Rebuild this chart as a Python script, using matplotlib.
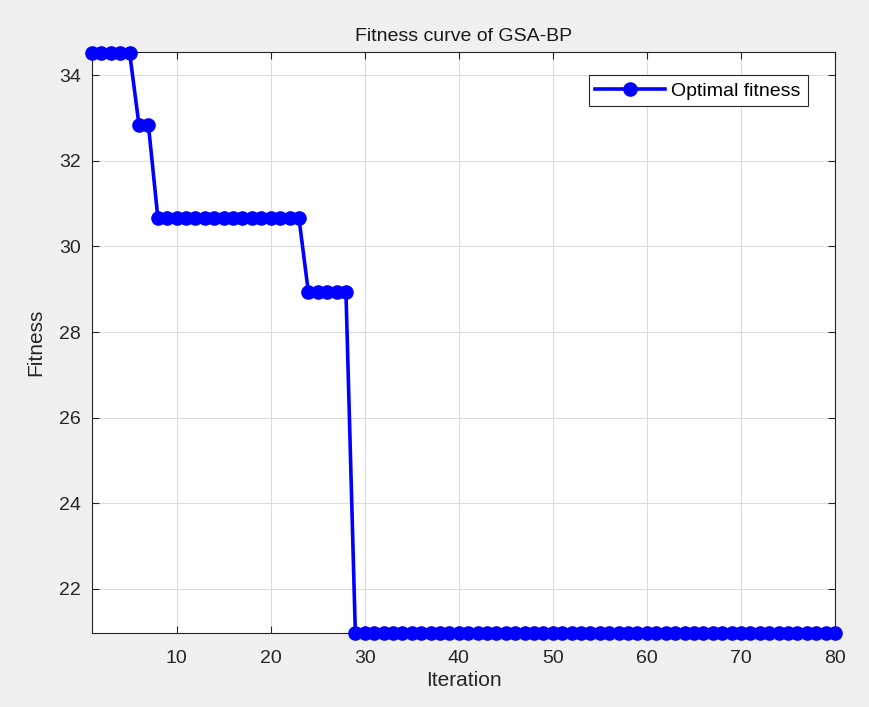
import numpy as np
import matplotlib
matplotlib.use("Agg")
import matplotlib.pyplot as plt

plt.rcParams['font.family'] = ['Liberation Sans', 'DejaVu Sans']

# fitness value at each iteration (step levels)
levels = [34.52, 32.83, 30.67, 28.94, 20.97]
counts = [5, 2, 16, 5, 52]
fitness = np.repeat(levels, counts)
iteration = np.arange(1, len(fitness) + 1)

fig = plt.figure(figsize=(8.7, 7.07), dpi=100, facecolor='#f0f0f0')
ax = fig.add_axes([92/870, 1-633/707, (835-92)/870, (633-52)/707])
ax.set_facecolor('white')

ax.plot(iteration, fitness, '-o', color='#0000ff', lw=2.6, ms=9.5,
        label='Optimal fitness', clip_on=False, zorder=3)

ax.set_xlim(1, 80)
ax.set_ylim(20.97, 34.54)
ax.set_xticks(np.arange(10, 81, 10))
ax.set_yticks(np.arange(22, 35, 2))
ax.grid(True, color='#dcdcdc', lw=0.8)
ax.set_axisbelow(True)
ax.tick_params(direction='in', top=True, right=True, labelsize=14,
               colors='#262626', length=5, width=0.8)
ax.tick_params(axis='x', pad=12)
ax.tick_params(axis='y', pad=8)
for s in ax.spines.values():
    s.set_color('#262626')
    s.set_linewidth(0.8)

ax.set_title('Fitness curve of GSA-BP', fontsize=14, color='#1a1a1a', pad=8)
ax.set_xlabel('Iteration', fontsize=15, color='#262626', labelpad=3)
ax.set_ylabel('Fitness', fontsize=15, color='#262626', labelpad=10)

leg = ax.legend(loc='upper right', fontsize=14, fancybox=False,
                edgecolor='#262626', framealpha=1, handlelength=3.6,
                borderaxespad=0, bbox_to_anchor=(0.963, 0.96),
                handletextpad=0.3, borderpad=0.35)
leg.get_frame().set_linewidth(0.8)

fig.savefig('out.png', dpi=100, facecolor=fig.get_facecolor())
